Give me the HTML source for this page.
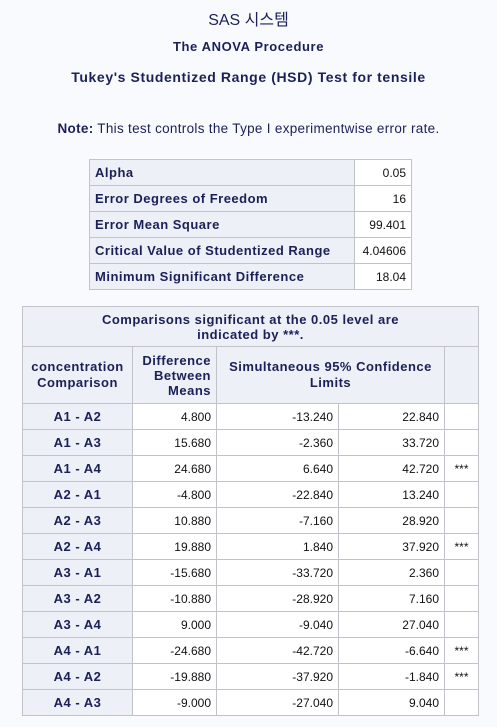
<!DOCTYPE html>
<html><head><meta charset="utf-8"><style>
body{margin:0;width:497px;height:727px;background:#f9fafd;font-family:"Liberation Sans","Noto Sans CJK KR",sans-serif;color:#1b2058;position:relative;overflow:hidden}
.t{position:absolute;left:0;width:497px;text-align:center}
table{position:absolute;border-collapse:collapse;table-layout:fixed}
td{border:1px solid #c1c3c8;padding:0 5px;font-size:13px;height:25px;box-sizing:border-box;white-space:nowrap}
td.h{background:#edf0f6;font-weight:bold;color:#1b2058;letter-spacing:0.5px}
td.v{background:#fff;text-align:right;font-size:12px;color:#111}
td.c{text-align:center}
</style></head><body>
<div class="t" style="top:6px;font-size:16px">SAS 시스템</div>
<div class="t" style="top:39px;font-size:13px;font-weight:bold;letter-spacing:0.6px">The ANOVA Procedure</div>
<div class="t" style="top:69px;font-size:14px;font-weight:bold;letter-spacing:0.6px">Tukey's Studentized Range (HSD) Test for tensile</div>
<div class="t" style="top:121px;font-size:13.5px;letter-spacing:0.3px"><b>Note:</b> This test controls the Type I experimentwise error rate.</div>

<table style="left:89px;top:159px;width:322px">
<colgroup><col style="width:265px"><col style="width:57px"></colgroup>
<tr style="height:26px"><td class="h">Alpha</td><td class="v">0.05</td></tr>
<tr style="height:26px"><td class="h">Error Degrees of Freedom</td><td class="v">16</td></tr>
<tr style="height:26px"><td class="h">Error Mean Square</td><td class="v">99.401</td></tr>
<tr style="height:26px"><td class="h">Critical Value of Studentized Range</td><td class="v">4.04606</td></tr>
<tr style="height:26px"><td class="h">Minimum Significant Difference</td><td class="v">18.04</td></tr>
</table>

<table id="cmp" style="left:22px;top:306px;width:456px">
<colgroup><col style="width:110px"><col style="width:84px"><col style="width:122px"><col style="width:106px"><col style="width:34px"></colgroup>
<tr style="height:40px"><td class="h c" colspan="5" style="line-height:15px;height:40px">Comparisons significant at the 0.05 level are<br>indicated by ***.</td></tr>
<tr style="height:57px">
<td class="h c" style="line-height:16px;height:57px">concentration<br>Comparison</td>
<td class="h" style="text-align:right;line-height:15px">Difference<br>Between<br>Means</td>
<td class="h c" colspan="2" style="line-height:16px">Simultaneous 95% Confidence<br>Limits</td>
<td class="h"></td></tr>
</table>
<script>
const comparisons=["A1 - A2","A1 - A3","A1 - A4","A2 - A1","A2 - A3","A2 - A4","A3 - A1","A3 - A2","A3 - A4","A4 - A1","A4 - A2","A4 - A3"];
const differences=[4.8,15.68,24.68,-4.8,10.88,19.88,-15.68,-10.88,9.0,-24.68,-19.88,-9.0];
const lowerLimits=[-13.24,-2.36,6.64,-22.84,-7.16,1.84,-33.72,-28.92,-9.04,-42.72,-37.92,-27.04];
const upperLimits=[22.84,33.72,42.72,13.24,28.92,37.92,2.36,7.16,27.04,-6.64,-1.84,9.04];
const flags=["","","***","","","***","","","","***","***",""];
const tb=document.getElementById('cmp');
comparisons.forEach((c,i)=>{
  const tr=document.createElement('tr');tr.style.height='26px';
  
  
  const cells=[[c,'h c'],[differences[i].toFixed(3),'v'],[lowerLimits[i].toFixed(3),'v'],[upperLimits[i].toFixed(3),'v'],[flags[i],'v c']];
  const names=['comparison-label','difference-value','lower-limit','upper-limit','significance-flag'];
  cells.forEach((d,j)=>{
    const td=document.createElement('td');td.className=d[1];td.textContent=d[0];
    
    
    tr.appendChild(td);
  });
  tb.appendChild(tr);
});
</script>
</body></html>
